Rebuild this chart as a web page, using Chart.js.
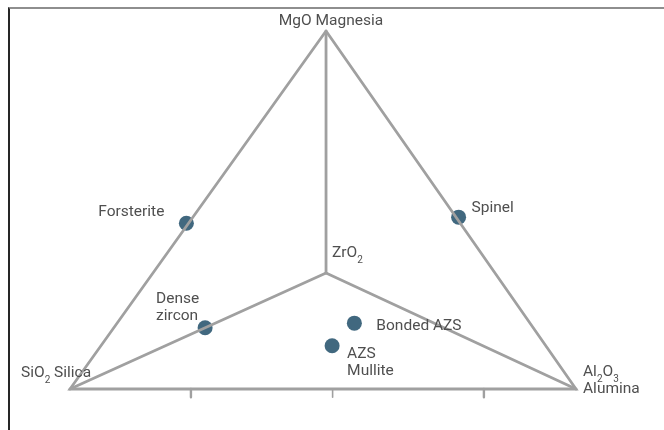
<!DOCTYPE html>
<html>
<head>
<meta charset="utf-8">
<script src="https://cdn.jsdelivr.net/npm/chart.js@4/dist/chart.umd.min.js"></script>
<style>
  html, body { margin: 0; padding: 0; background: #fff; }
  #wrap { position: relative; width: 664px; height: 430px; overflow: hidden; }
  #frame { position: absolute; left: 8px; top: 7px; right: -4px; bottom: -4px;
           border-top: 2px solid #8e8e8e; border-left: 2px solid #262626; }
  canvas { position: absolute; left: 0; top: 0; }
</style>
</head>
<body>
<div id="wrap">
  <div id="frame"></div>
  <canvas id="chart" width="664" height="430"></canvas>
</div>
<script>
// Phase diagram: corners, the ZrO2 centre and refractory materials,
// positioned in diagram units (x: 0 = SiO2 corner, 100 = Al2O3 corner;
// y: 0 = base, 100 = MgO apex).
const cornerNames = ['MgO Magnesia', 'SiO₂ Silica', 'Al₂O₃\nAlumina'];
const cornerX = [50.6, 0, 100];
const cornerY = [100, 0, 0];

const centreName = 'ZrO₂';
const centreX = 50.6;
const centreY = 32.4;

const materials = ['Forsterite', 'Spinel', 'Dense\nzircon', 'Bonded AZS', 'AZS\nMullite'];
const materialX = [23.0, 76.8, 26.7, 56.2, 51.8];
const materialY = [46.3, 48.0, 17.1, 18.4, 12.1];

const baseTickX = [23.9, 51.9, 81.8];
const baseTickDepth = -2.3;

// Label placement (pixel offsets from the anchor) and alignment
const labelStyle = {
  'MgO Magnesia':  { dx: 5,   dy: -10, align: 'center' },
  'SiO₂ Silica':   { dx: -49, dy: -16, align: 'left' },
  'Al₂O₃\nAlumina':{ dx: 7,   dy: -17, align: 'left' },
  'ZrO₂':          { dx: 6,   dy: -20, align: 'left' },
  'Forsterite':    { dx: -22, dy: -11, align: 'right' },
  'Spinel':        { dx: 13,  dy: -9,  align: 'left' },
  'Dense\nzircon': { dx: -49, dy: -29, align: 'left' },
  'Bonded AZS':    { dx: 22,  dy: 3,   align: 'left' },
  'AZS\nMullite':  { dx: 15,  dy: 8,   align: 'left' }
};

const LINE = '#a0a0a0';
const MARK = '#41687f';
const TEXT = '#4f4f4f';
const FONT_SIZE = 15.5;
const FONT_FAMILY = 'Roboto, "Liberation Sans", sans-serif';

function seg(x1, y1, x2, y2, width) {
  return {
    type: 'line',
    data: [{ x: x1, y: y1 }, { x: x2, y: y2 }],
    borderColor: LINE, borderWidth: width || 2.8,
    pointRadius: 0, showLine: true, clip: false, tension: 0,
    borderCapStyle: 'round'
  };
}

const datasets = [];
// outer triangle
datasets.push({
  type: 'line',
  data: [0, 1, 2, 0].map(i => ({ x: cornerX[i], y: cornerY[i] })),
  borderColor: LINE, borderWidth: 2.8, pointRadius: 0, showLine: true,
  clip: false, tension: 0, borderJoinStyle: 'miter'
});
// spokes from each corner to the ZrO2 centre
for (let i = 0; i < 3; i++) datasets.push(seg(cornerX[i], cornerY[i], centreX, centreY));
// small ticks under the base
baseTickX.forEach((t, i) => datasets.push(seg(t, 0, t, baseTickDepth, i === 1 ? 1.6 : 2.4)));
// materials
datasets.push({
  type: 'scatter',
  data: materials.map((m, i) => ({ x: materialX[i], y: materialY[i] })),
  backgroundColor: MARK, borderColor: MARK, borderWidth: 0,
  pointRadius: 7.5, clip: false
});

// Draw text with subscript digits rendered small and lowered
const SUBS = '₀₁₂₃₄₅₆₇₈₉';
function runs(line) {
  const out = [];
  for (const ch of line) {
    const k = SUBS.indexOf(ch);
    const sub = k >= 0;
    const c = sub ? String(k) : ch;
    if (out.length && out[out.length - 1].sub === sub) out[out.length - 1].t += c;
    else out.push({ t: c, sub });
  }
  return out;
}
function drawRich(ctx, line, x, y, align) {
  const parts = runs(line);
  const big = FONT_SIZE + 'px ' + FONT_FAMILY;
  const small = Math.round(FONT_SIZE * 0.62) + 'px ' + FONT_FAMILY;
  let w = 0;
  parts.forEach(p => { ctx.font = p.sub ? small : big; p.w = ctx.measureText(p.t).width; w += p.w; });
  let cx = align === 'center' ? x - w / 2 : align === 'right' ? x - w : x;
  ctx.textAlign = 'left';
  ctx.textBaseline = 'middle';
  parts.forEach(p => {
    ctx.font = p.sub ? small : big;
    ctx.fillText(p.t, cx, p.sub ? y + 7 : y);
    cx += p.w;
  });
}

const labelPlugin = {
  id: 'diagramLabels',
  afterDatasetsDraw(chart) {
    const { ctx, scales } = chart;
    const xs = scales.x, ys = scales.y;
    const anchors = [];
    cornerNames.forEach((n, i) => anchors.push([n, cornerX[i], cornerY[i]]));
    anchors.push([centreName, centreX, centreY]);
    materials.forEach((n, i) => anchors.push([n, materialX[i], materialY[i]]));
    ctx.save();
    ctx.fillStyle = TEXT;
    anchors.forEach(([name, dx, dy]) => {
      const s = labelStyle[name];
      const px = xs.getPixelForValue(dx) + s.dx;
      const py = ys.getPixelForValue(dy) + s.dy;
      name.split('\n').forEach((ln, k) => drawRich(ctx, ln, px, py + k * 17, s.align));
    });
    ctx.restore();
  }
};

new Chart(document.getElementById('chart'), {
  type: 'scatter',
  data: { datasets },
  options: {
    responsive: false,
    animation: false,
    events: [],
    layout: { padding: { left: 70, right: 88, top: 31, bottom: 41 } },
    scales: {
      x: { type: 'linear', min: 0, max: 100, display: false },
      y: { type: 'linear', min: 0, max: 100, display: false }
    },
    plugins: { legend: { display: false }, tooltip: { enabled: false } }
  },
  plugins: [labelPlugin]
});
</script>
</body>
</html>
